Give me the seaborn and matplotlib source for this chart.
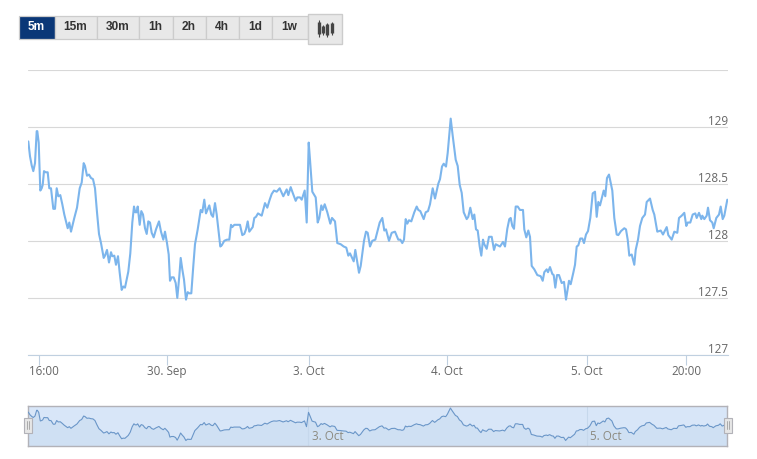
#!/usr/bin/env python3
"""Price chart with range buttons and a navigator strip below it."""

import matplotlib
matplotlib.use("Agg")
import matplotlib.pyplot as plt
from matplotlib.patches import Rectangle
from matplotlib.transforms import ScaledTranslation
import pandas as pd
import seaborn as sns

# Position along the time axis (weekend gaps are left out), and price
time_pos = [
    0.3, 2, 3.7, 5.3, 7, 8.7, 9.3, 10.7, 12.3, 13.7, 14.7, 16, 17.7, 19.7, 21.3, 23, 25.3, 27, 28.7, 30.3,
    32.3, 34.3, 36.3, 39.7, 41.3, 43, 46.3, 49, 51.7, 53.7, 55.7, 57, 59, 61, 63, 65, 67, 69, 71, 73,
    75.7, 77, 79, 81, 83, 84.3, 86.3, 88, 90, 91.7, 93.7, 95.3, 97, 100.3, 102.3, 104.3, 106, 107.3, 108.7, 109.7,
    111.7, 113.3, 115, 117, 118.7, 120.3, 122, 123.7, 125.7, 128, 131, 133, 135.3, 137, 139, 140.7, 142, 143.7, 145.7, 147.7,
    149.3, 151.3, 152.7, 154.3, 156, 158, 159.7, 161.3, 163.3, 165.3, 167, 169.7, 172.7, 174.3, 176.3, 178, 181.3, 183.3, 185, 187,
    188.7, 192.3, 193.7, 196.3, 199, 201.3, 203, 204.3, 206.3, 212, 214.3, 216.3, 218, 219.7, 221.3, 224.7, 226.3, 228, 230, 233.7,
    237, 239.3, 241.7, 243.7, 246, 248.7, 251.7, 255.3, 258.7, 260.3, 262.7, 264.7, 267.7, 269.3, 272, 273.7, 276.7, 278.7, 280.7, 282,
    284.3, 287.7, 289.7, 291.3, 293.3, 294.7, 296.7, 299.3, 302.3, 304, 307, 309.3, 312.7, 315.7, 318.3, 320.3, 322, 325.7, 327.3, 331,
    332.7, 336, 338, 339.7, 342, 344.3, 347.3, 351.7, 354.3, 356.3, 358, 361, 363.7, 367, 370.3, 372.3, 374.3, 376, 377.7, 379.3,
    381, 383.3, 386.3, 388.7, 390.3, 392.3, 395.7, 397.7, 400, 402, 404.7, 407, 410.3, 412, 414, 415.7, 418, 419.7, 422.7, 424.7,
    427.7, 429.7, 431.7, 433.7, 435.7, 438.7, 440.3, 442.3, 444.7, 446.3, 448, 449.7, 451.7, 453.3, 455, 456.3, 458.7, 461, 463.7, 466,
    467.7, 472, 475, 477, 479.3, 481.3, 482.7, 484.3, 486, 487.7, 489.7, 492, 495, 496.3, 498.3, 500.3, 502, 503.7, 506.3, 509.3,
    512.7, 514.7, 516.3, 518.7, 520, 522, 524.3, 525.7, 527.3, 529, 531, 533.7, 536, 538, 541, 542.7, 545.3, 547, 548.7, 550.3,
    552.3, 554.3, 556, 558, 560, 562.3, 564.7, 567, 568.7, 570.3, 572, 575.7, 577.3, 579, 581, 584.3, 586.3, 588.7, 590.3, 593,
    596.3, 598, 599.7, 601.3, 603.7, 606.3, 607.7, 610, 612, 614.3, 617, 618.7, 622, 624.7, 626.3, 629.3, 632.7, 635, 638.7, 640.3,
    643.7, 646.3, 649.3, 651, 653.7, 656.3, 658.3, 659.7, 662.3, 664.7, 667.3, 668.7, 671, 673.3, 674.3, 676.3, 678.7, 680, 682, 684.3,
    685.7, 688.3, 691, 692.7, 694.7, 696.3, 699.3,
]
price = [
    128.87, 128.74, 128.66, 128.61, 128.68, 128.96, 128.96, 128.86, 128.44, 128.46, 128.49, 128.61, 128.60, 128.60, 128.46, 128.46, 128.28, 128.28, 128.46, 128.39,
    128.40, 128.32, 128.23, 128.11, 128.16, 128.08, 128.20, 128.29, 128.46, 128.51, 128.68, 128.655, 128.57, 128.58, 128.55, 128.54, 128.46, 128.25, 128.06, 127.98,
    127.85, 127.87, 127.92, 127.81, 127.90, 127.865, 127.87, 127.79, 127.865, 127.72, 127.57, 127.60, 127.59, 127.73, 127.89, 128.16, 128.30, 128.25, 128.25, 128.30,
    128.14, 128.26, 128.23, 128.11, 128.06, 128.17, 128.16, 128.07, 128.03, 128.10, 128.17, 128.08, 128.01, 128.08, 127.98, 127.88, 127.65, 127.68, 127.68, 127.63,
    127.50, 127.69, 127.85, 127.75, 127.66, 127.485, 127.55, 127.54, 127.54, 127.78, 127.97, 128.10, 128.27, 128.25, 128.36, 128.24, 128.31, 128.23, 128.21, 128.33,
    128.23, 127.95, 127.96, 128.00, 128.01, 128.01, 128.14, 128.12, 128.14, 128.14, 128.05, 128.06, 128.10, 128.17, 128.08, 128.12, 128.20, 128.21, 128.24, 128.22,
    128.33, 128.29, 128.36, 128.41, 128.44, 128.43, 128.46, 128.39, 128.45, 128.40, 128.47, 128.42, 128.35, 128.38, 128.38, 128.36, 128.44, 128.16, 128.86, 128.71,
    128.43, 128.38, 128.16, 128.20, 128.31, 128.27, 128.32, 128.25, 128.15, 128.20, 128.17, 127.98, 127.97, 127.95, 127.94, 127.87, 127.89, 127.82, 127.92, 127.72,
    127.78, 128.00, 128.08, 128.07, 127.95, 128.00, 128.01, 128.16, 128.20, 128.09, 128.10, 128.00, 128.07, 128.08, 128.01, 128.01, 127.98, 128.01, 128.19, 128.15,
    128.18, 128.17, 128.25, 128.30, 128.27, 128.26, 128.19, 128.25, 128.26, 128.32, 128.46, 128.37, 128.50, 128.54, 128.65, 128.675, 128.65, 128.77, 129.07, 128.92,
    128.71, 128.655, 128.49, 128.42, 128.25, 128.19, 128.21, 128.29, 128.19, 128.23, 128.10, 128.09, 127.95, 127.87, 128.01, 127.97, 127.93, 128.035, 128.035, 127.92,
    127.97, 127.95, 127.99, 127.95, 128.105, 128.19, 128.20, 128.13, 128.105, 128.30, 128.30, 128.27, 128.27, 128.10, 128.03, 128.09, 128.035, 127.78, 127.75, 127.70,
    127.69, 127.65, 127.725, 127.75, 127.725, 127.77, 127.71, 127.70, 127.59, 127.70, 127.70, 127.63, 127.64, 127.485, 127.65, 127.62, 127.72, 127.79, 127.95, 127.96,
    128.02, 128.02, 127.98, 128.055, 128.085, 128.20, 128.415, 128.43, 128.21, 128.34, 128.31, 128.44, 128.39, 128.55, 128.58, 128.44, 128.20, 128.055, 128.05, 128.085,
    128.11, 128.10, 128.01, 127.87, 127.88, 127.79, 127.92, 128.01, 128.13, 128.20, 128.23, 128.34, 128.37, 128.27, 128.23, 128.08, 128.09, 128.055, 128.12, 128.05,
    128.01, 128.08, 128.07, 128.20, 128.22, 128.245, 128.13, 128.16, 128.16, 128.23, 128.24, 128.20, 128.245, 128.19, 128.22, 128.19, 128.22, 128.29, 128.18, 128.16,
    128.11, 128.20, 128.23, 128.30, 128.19, 128.22, 128.36,
]

y_ticks = [127, 127.5, 128, 128.5, 129, 129.5]
y_labels = ["127", "127.5", "128", "128.5", "129"]
x_tick_pos = [10.5, 138.5, 280.5, 419, 559, 658]
x_labels = ["16:00", "30. Sep", "3. Oct", "4. Oct", "5. Oct", "20:00"]
nav_tick_pos = [280.5, 559]
nav_labels = ["3. Oct", "5. Oct"]
buttons = ["5m", "15m", "30m", "1h", "2h", "4h", "1d", "1w"]

W, H = 757, 459
GRID = "#d8d8d8"
AXIS = "#c0d0e0"
LINE = "#7cb5ec"
TEXT = "#666666"


def px_axes(fig, left, top, right, bottom):
    """Axes placed by pixel edges, measured from the top left of the figure."""
    return fig.add_axes([left / W, 1 - bottom / H, (right - left) / W, (bottom - top) / H])


sns.set_style("white")
plt.rcParams["font.family"] = ["Open Sans", "DejaVu Sans"]

df = pd.DataFrame({"time_pos": time_pos, "price": price})
fig = plt.figure(figsize=(W / 100, H / 100), dpi=100)

# Main chart
ax = px_axes(fig, 28, 69.5, 728, 355)
sns.lineplot(data=df, x="time_pos", y="price", ax=ax, color=LINE, linewidth=1.5,
             estimator=None, sort=False, errorbar=None, zorder=3)
ax.set_xlim(0, 700)
ax.set_ylim(127, 129.5)
ax.set_xlabel("")
ax.set_ylabel("")
ax.set_yticks(y_ticks)
ax.set_yticklabels([])
ax.tick_params(axis="y", length=0)
ax.grid(axis="y", color=GRID, linewidth=0.8)
ax.grid(axis="x", visible=False)
ax.set_axisbelow(True)
sns.despine(ax=ax, left=True, top=True, right=True)
ax.spines["bottom"].set_color(AXIS)
ax.spines["bottom"].set_linewidth(0.8)
ax.set_xticks(x_tick_pos)
ax.set_xticklabels(x_labels, fontsize=8.4, color=TEXT)
ax.tick_params(axis="x", length=7, width=0.8, color=AXIS, pad=0.5, bottom=True)

# First label is pushed right so it stays inside the plot
first = ax.get_xticklabels()[0]
first.set_transform(first.get_transform() + ScaledTranslation(5 / 100, 0, fig.dpi_scale_trans))

for val, lab in zip(y_ticks, y_labels):
    ax.annotate(lab, (1, val), xycoords=("axes fraction", "data"), xytext=(0, -0.9),
                textcoords="offset points", ha="right", va="bottom", fontsize=8.4, color=TEXT)

# Navigator strip
nav = px_axes(fig, 28, 406, 727.5, 445.5)
nav.set_facecolor("#d8e6f8")
nav.fill_between(time_pos, price, 127.0, color="#cfe0f3", linewidth=0, zorder=1)
sns.lineplot(data=df, x="time_pos", y="price", ax=nav, color="#6a96c8", linewidth=0.8,
             estimator=None, sort=False, errorbar=None, zorder=3)
nav.set_xlim(0, 700)
nav.set_ylim(127.24, 129.17)
nav.set_xlabel("")
nav.set_ylabel("")
nav.set_xticks([])
nav.set_yticks([])
for pos, lab in zip(nav_tick_pos, nav_labels):
    nav.axvline(pos, color="#c6d8ec", linewidth=0.8, zorder=2)
    nav.annotate(lab, (pos, 0), xycoords=("data", "axes fraction"), xytext=(2.5, 1.5),
                 textcoords="offset points", ha="left", va="bottom", fontsize=8.4,
                 color="#8c8a80", zorder=4)
for side in nav.spines.values():
    side.set_color("#b2b2b8")
    side.set_linewidth(1.0)

# Overlay in pixel coordinates for the buttons and navigator handles
ui = fig.add_axes([0, 0, 1, 1], facecolor="none")
ui.set_xlim(0, W)
ui.set_ylim(H, 0)
ui.axis("off")

edges = [18.5, 54.5, 96.5, 138.5, 172.5, 205.5, 238.5, 271.5, 307.5]
for i, lab in enumerate(buttons):
    active = i == 0
    ui.add_patch(Rectangle((edges[i], 15.5), edges[i + 1] - edges[i], 23,
                           facecolor="#0a3777" if active else "#e8e8e8",
                           edgecolor="#cccccc", linewidth=0.9))
    ui.text((edges[i] + edges[i + 1]) / 2, 27.5, lab, ha="center", va="center", fontsize=8.6,
            fontweight="bold", family="Liberation Sans",
            color="white" if active else "#333333")

# Candlestick toggle
ui.add_patch(Rectangle((307.5, 13.5), 34, 30, facecolor="#e8e8e8", edgecolor="#cccccc", linewidth=1))
for x, y0, y1, b0, b1 in [(318.5, 20, 37, 22, 34), (322.8, 25, 35, 26, 33),
                          (327.3, 23, 37, 24, 35), (331.7, 22, 35, 23, 33)]:
    ui.plot([x, x], [y0, y1], color="#444444", linewidth=0.8, solid_capstyle="butt")
    ui.plot([x, x], [b0, b1], color="#444444", linewidth=2.4, solid_capstyle="butt")

# Navigator handles
for x in [27.5, 727.5]:
    ui.add_patch(Rectangle((x - 4, 417.5), 8, 15, facecolor="#e6e6e6", edgecolor="#b2b2b8", linewidth=0.8))
    for dx in [-1, 1]:
        ui.plot([x + dx, x + dx], [421, 429], color="#a0a0a0", linewidth=0.6)

fig.savefig("out.png", dpi=100)
plt.close(fig)
